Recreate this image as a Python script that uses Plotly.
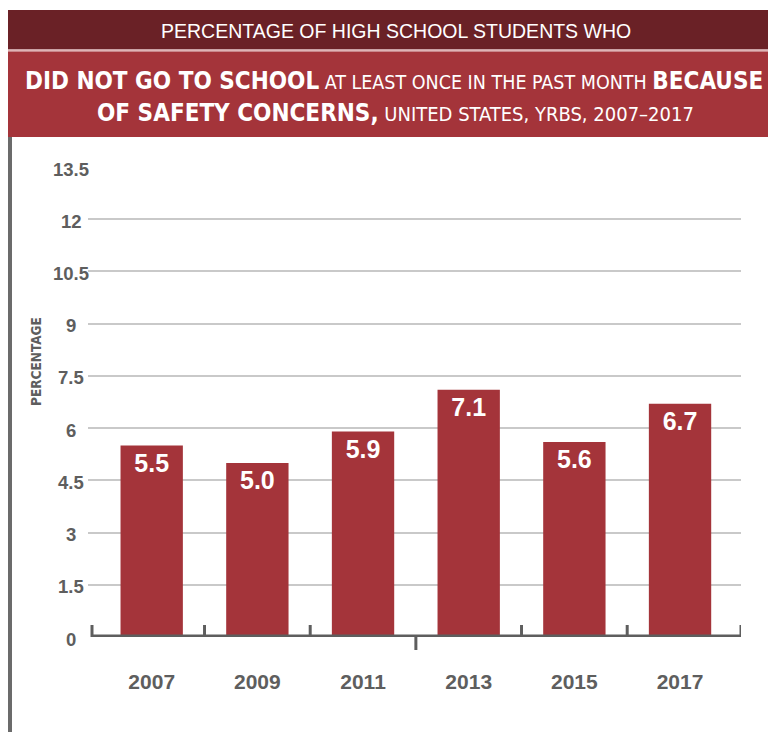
import plotly.graph_objects as go

# data
years = ["2007", "2009", "2011", "2013", "2015", "2017"]
pct = [5.5, 5.0, 5.9, 7.1, 5.6, 6.7]
y_ticks = [0, 1.5, 3, 4.5, 6, 7.5, 9, 10.5, 12, 13.5]
y_tick_text = ["0", "1.5", "3", "4.5", "6", "7.5", "9", "10.5", "12", "13.5"]

# the page body adds an 8px margin, so the figure is drawn 8px smaller
OFF = 8
W, H = 776 - OFF, 732 - OFF
L, R, T, B = 88 - OFF, 35, 167 - OFF, 95
PW, PH = W - L - R, H - T - B


# reference-picture pixels -> paper coords
def px(x):
    return (x - OFF - L) / PW


def py(y):
    return (H - B - (y - OFF)) / PH


RED = "#a4343a"
DARK = "#6a2126"
GRAY = "#5e5e5e"
COND = "DejaVu Sans Condensed, DejaVu Sans, sans-serif"
SANS = "Liberation Sans, Arial, sans-serif"

fig = go.Figure(go.Bar(
    x=years, y=pct, width=0.59,
    marker=dict(color=RED, line=dict(width=0)),
    texttemplate="<b>%{y:.1f}</b>", textposition="inside", insidetextanchor="end",
    textfont=dict(family=SANS, size=25, color="white"),
    hoverinfo="skip",
))

shapes = []
# header bands
shapes.append(dict(type="rect", xref="paper", yref="paper", x0=px(6), x1=px(780),
                   y0=py(10), y1=py(49.5), fillcolor=DARK, line=dict(width=0), layer="above"))
shapes.append(dict(type="rect", xref="paper", yref="paper", x0=px(6), x1=px(780),
                   y0=py(49.5), y1=py(51.5), fillcolor="#dfb3b5", line=dict(width=0), layer="above"))
shapes.append(dict(type="rect", xref="paper", yref="paper", x0=px(6), x1=px(780),
                   y0=py(51.5), y1=py(137), fillcolor=RED, line=dict(width=0), layer="above"))
# left gray rule
shapes.append(dict(type="rect", xref="paper", yref="paper", x0=px(8), x1=px(12),
                   y0=py(137), y1=py(740), fillcolor="#6b6b6b", line=dict(width=0)))
# x axis baseline and its ticks
x_lo, x_hi = -0.565, 5.577
shapes.append(dict(type="line", xref="x", yref="y", x0=x_lo, x1=x_hi, y0=0, y1=0,
                   line=dict(color=GRAY, width=5), layer="above"))
for xb in [x_lo, 0.5, 1.5, 2.5, 3.5, 4.5, x_hi]:
    down = xb == 2.5
    shapes.append(dict(type="line", xref="x", yref="paper", x0=xb, x1=xb,
                       y0=py(637), y1=py(650) if down else py(625),
                       line=dict(color=GRAY, width=3), layer="above"))

annotations = []
annotations.append(dict(xref="paper", yref="paper", x=px(396), y=py(31),
                        text="PERCENTAGE OF HIGH SCHOOL STUDENTS WHO", showarrow=False,
                        font=dict(family=SANS, size=19.5, color="white"),
                        xanchor="center", yanchor="middle"))
annotations.append(dict(xref="paper", yref="paper", x=px(394), y=py(81),
                        text="<b>DID NOT GO TO SCHOOL</b>"
                             "<span style='font-size:19.5px'> AT LEAST ONCE IN THE PAST MONTH </span>"
                             "<b>BECAUSE</b>",
                        showarrow=False, font=dict(family=COND, size=24, color="white"),
                        xanchor="center", yanchor="middle"))
annotations.append(dict(xref="paper", yref="paper", x=px(395), y=py(113),
                        text="<b>OF SAFETY CONCERNS,</b>"
                             "<span style='font-size:20px'> UNITED STATES, YRBS, 2007–2017</span>",
                        showarrow=False, font=dict(family=COND, size=24, color="white"),
                        xanchor="center", yanchor="middle"))
annotations.append(dict(xref="paper", yref="paper", x=px(36), y=py(362),
                        text="<b>PERCENTAGE</b>", textangle=-90, showarrow=False,
                        font=dict(family=COND, size=13.5, color=GRAY),
                        xanchor="center", yanchor="middle"))
for v, t in zip(y_ticks, y_tick_text):
    annotations.append(dict(xref="paper", yref="y", x=px(71), y=v, yshift=-2,
                            text="<b>" + t + "</b>", showarrow=False,
                            font=dict(family=SANS, size=18.5, color=GRAY),
                            xanchor="center", yanchor="middle"))

fig.update_layout(
    width=W, height=H,
    margin=dict(l=L, r=R, t=T, b=B, pad=0),
    paper_bgcolor="white", plot_bgcolor="white",
    showlegend=False,
    shapes=shapes,
    annotations=annotations,
    xaxis=dict(range=[x_lo - 4 / 105.7, x_hi], showgrid=False, zeroline=False,
               showline=False, ticks="", ticklabelstandoff=30,
               tickfont=dict(family=SANS, size=21, color=GRAY),
               tickvals=years, ticktext=["<b>" + y + "</b>" for y in years]),
    yaxis=dict(range=[0, 13.5], tickvals=y_ticks, showticklabels=False,
               showgrid=True, gridcolor="#c9c9c9", gridwidth=1.5,
               zeroline=False, showline=False, ticks=""),
)

fig.write_html("out.html")
